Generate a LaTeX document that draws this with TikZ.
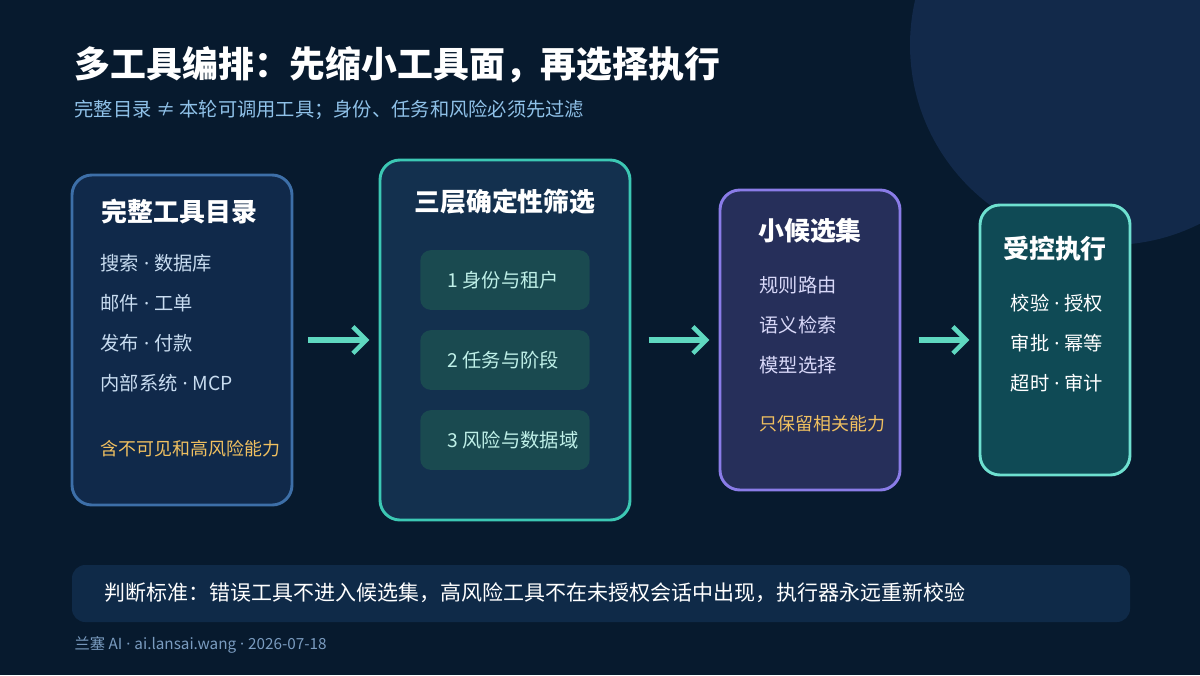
\documentclass[tikz,border=0pt]{standalone}
\usepackage{fontspec}
\setmainfont{Noto Sans CJK SC}
\newfontfamily\latn{Noto Sans}
\newcommand{\md}{{\latn\ ·\ }}
\usetikzlibrary{arrows.meta}
\definecolor{bg}{HTML}{071A2E}
\definecolor{circ}{HTML}{12294A}
\definecolor{sub}{HTML}{8FC1E8}
\definecolor{itm}{HTML}{C8DCF0}
\definecolor{gold}{HTML}{F0C060}
\definecolor{arr}{HTML}{5FD8C0}
\definecolor{bAf}{HTML}{10294A}\definecolor{bAd}{HTML}{3D6FA8}
\definecolor{bBf}{HTML}{13304E}\definecolor{bBd}{HTML}{3CC8B4}
\definecolor{pill}{HTML}{1A4A50}\definecolor{pillt}{HTML}{BFF0E8}
\definecolor{bCf}{HTML}{262F5A}\definecolor{bCd}{HTML}{8A7CE8}\definecolor{ctx}{HTML}{D8D8F8}
\definecolor{bDf}{HTML}{0F4A55}\definecolor{bDd}{HTML}{6EE0D0}
\definecolor{bar}{HTML}{0F2A48}\definecolor{foot}{HTML}{7A9CC0}
\begin{document}
\begin{tikzpicture}[x=0.0264583cm,y=-0.0264583cm,
 box/.style={rounded corners=20*0.75pt,line width=2.2pt},
 ttl/.style={text=white,font=\fontsize{19.5}{22}\selectfont\bfseries},
 itm/.style={anchor=west,font=\fontsize{14.5}{16}\selectfont},
 flow/.style={-{Straight Barb[length=10pt,width=20pt,line width=3.4pt]},line width=3.8pt,arr},
 pl/.style={fill=pill,rounded corners=8pt,minimum width=170*0.75pt,minimum height=60*0.75pt,inner sep=0}]
\fill[bg] (0,0) rectangle (1200,675);
\begin{scope}
\clip (0,0) rectangle (1200,675);
\fill[circ] (1110,45) circle (200);
\end{scope}
\node[anchor=west,text=white,font=\fontsize{27}{30}\selectfont\bfseries] (t) at (70,65) {多工具编排：先缩小工具面，再选择执行};
\node[anchor=west,text=sub,font=\fontsize{14.5}{16}\selectfont] (st) at (70,110) {完整目录 ≠ 本轮可调用工具；身份、任务和风险必须先过滤};
% box A
\draw[box,fill=bAf,draw=bAd] (72,175) rectangle (292,505);
\node[ttl,anchor=west] (a0) at (97,212) {完整工具目录};
\node[itm,text=itm] (a1) at (96,263) {搜索\md 数据库};
\node[itm,text=itm] (a2) at (96,303) {邮件\md 工单};
\node[itm,text=itm] (a3) at (96,343) {发布\md 付款};
\node[itm,text=itm] (a4) at (96,383) {内部系统\md MCP};
\node[itm,text=gold,font=\fontsize{13.5}{15}\selectfont] (a5) at (96,449) {含不可见和高风险能力};
\coordinate (A) at (292,340);
% box B
\draw[box,fill=bBf,draw=bBd] (380,160) rectangle (630,520);
\node[ttl] (b0) at (505,202) {三层确定性筛选};
\node[pl] (p1) at (505,280) {};\node[itm,text=pillt] at (443,280) {1 身份与租户};
\node[pl] (p2) at (505,360) {};\node[itm,text=pillt] at (443,360) {2 任务与阶段};
\node[pl] (p3) at (505,440) {};\node[itm,text=pillt] at (443,440) {3 风险与数据域};
\coordinate (B1) at (380,340);\coordinate (B2) at (630,340);
% box C
\draw[box,fill=bCf,draw=bCd] (720,190) rectangle (900,490);
\node[ttl] (c0) at (810,231) {小候选集};
\node[itm,text=ctx] (c1) at (755,285) {规则路由};
\node[itm,text=ctx] (c2) at (755,325) {语义检索};
\node[itm,text=ctx] (c3) at (755,365) {模型选择};
\node[itm,text=gold,font=\fontsize{13.5}{15}\selectfont] (c4) at (755,424) {只保留相关能力};
\coordinate (C1) at (720,340);\coordinate (C2) at (900,340);
% box D
\draw[box,fill=bDf,draw=bDd] (980,205) rectangle (1130,475);
\node[ttl] (d0) at (1055,249) {受控执行};
\node[text=white,font=\fontsize{14.5}{16}\selectfont] (d1) at (1057,303) {校验\md 授权};
\node[text=white,font=\fontsize{14.5}{16}\selectfont] (d2) at (1057,343) {审批\md 幂等};
\node[text=white,font=\fontsize{14.5}{16}\selectfont] (d3) at (1057,383) {超时\md 审计};
\coordinate (D1) at (980,340);
% arrows
\draw[flow] ([xshift=12]A) -- ([xshift=-8]B1);
\draw[flow] ([xshift=14]B2) -- ([xshift=-8]C1);
\draw[flow] ([xshift=14]C2) -- ([xshift=-8]D1);
% bottom bar
\fill[bar,rounded corners=10pt] (72,565) rectangle (1130,622);
\node[anchor=west,text=white,font=\fontsize{15.8}{18}\selectfont] (bt) at (100,593) {判断标准：错误工具不进入候选集，高风险工具不在未授权会话中出现，执行器永远重新校验};
\node[anchor=west,text=foot,font=\fontsize{11.5}{13}\selectfont] (ft) at (70,645) {兰塞 AI\md ai.lansai.wang\md 2026-07-18};
\end{tikzpicture}
\end{document}
